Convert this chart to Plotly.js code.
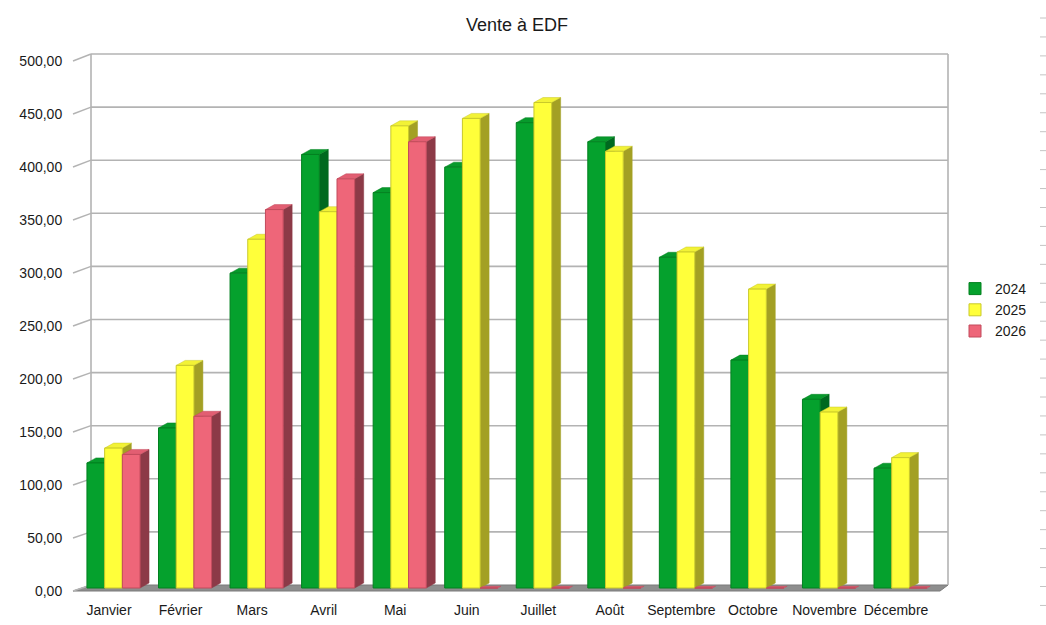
<!DOCTYPE html>
<html>
<head>
<meta charset="utf-8">
<script src="https://cdn.plot.ly/plotly-3.0.1.min.js"></script>
<style>html,body{margin:0;padding:0;background:#fff}#chart{width:1046px;height:625px}</style>
</head>
<body>
<div id="chart"></div>
<script>
// ---- data ----
const months = ["Janvier","Février","Mars","Avril","Mai","Juin","Juillet","Août","Septembre","Octobre","Novembre","Décembre"];
const seriesNames = ["2024","2025","2026"];
const v2024 = [118,151,297,409,373,397,439,421,312,215,178,113];
const v2025 = [132,210,329,355,436,443,458,412,317,282,166,123];
const v2026 = [126,162,357,386,421,0,0,0,0,0,0,0];
const yTicks = [0,50,100,150,200,250,300,350,400,450,500];
const yTickText = yTicks.map(v => v.toFixed(2).replace('.', ','));

// ---- styles / geometry ----
const W = 1046, H = 625;
const fx = x => x / W, fy = y => 1 - y / H;
const FRONT_L = 73, BACK_L = 91, BACK_R = 948, FRONT_R = 940;
const FRONT_FLOOR = 591, BACK_FLOOR = 585, BACK_TOP = 54;
const SCALE = 1.06;             // px per unit (front)
const BACK_SCALE = (BACK_FLOOR - BACK_TOP) / 500;
const CAT = 71.55;              // px per category
const GROUP0 = 113.5;           // px of first group centre
const LABEL0 = 109;             // px of first label centre

const xDomain = [fx(FRONT_L), fx(BACK_R)];
const yDomain = [fy(FRONT_FLOOR), fy(BACK_TOP)];
const xRange = [(FRONT_L - GROUP0) / CAT, (BACK_R - GROUP0) / CAT];
const yLabelRange = [0, (FRONT_FLOOR - BACK_TOP) / SCALE];
const BAR_FLOOR = 588;
const yDataRange = [-(FRONT_FLOOR - BAR_FLOOR) / SCALE, (BAR_FLOOR - BACK_TOP) / SCALE];

const wb = 17.7 / CAT;
const dx = 9 / CAT, dy = 5 / SCALE;
const offsets = [-1.5 * wb, -0.5 * wb, 0.5 * wb];
const fronts = ["#05a12d", "#ffff3a", "#ee6679"];
const edges  = ["#02801f", "#c9c92a", "#c24a5c"];
const sides  = ["#00691f", "#a3a024", "#8c3a47"];
const tops   = ["#079a2c", "#f2f236", "#e25e72"];
const allVals = [v2024, v2025, v2026];
const xIdx = months.map((m, i) => i);

const traces = [];
// base subplot holder (carries the visible axes)
traces.push({type: 'scatter', mode: 'markers', x: [0], y: [0], marker: {opacity: 0},
  xaxis: 'x', yaxis: 'y', showlegend: false, hoverinfo: 'skip'});
// side + top faces (under the front faces)
allVals.forEach((vals, s) => {
  const sx = [], sy = [], tx = [], ty = [];
  vals.forEach((T, i) => {
    const L = i + offsets[s], R = L + wb;
    if (T > 0) {
      sx.push(R, R + dx, R + dx, R, R, null);
      sy.push(0, dy, T + dy, T, 0, null);
    }
    const h = T > 0 ? dy : dy * 0.35;
    const d = T > 0 ? dx : dx * 0.35;
    tx.push(L, R, R + d, L + d, L, null);
    ty.push(T, T, T + h, T + h, T, null);
  });
  traces.push({type: 'scatter', mode: 'lines', x: sx, y: sy, fill: 'toself', fillcolor: sides[s],
    line: {color: sides[s], width: 0.5}, xaxis: 'x', yaxis: 'y2', showlegend: false, hoverinfo: 'skip'});
  traces.push({type: 'scatter', mode: 'lines', x: tx, y: ty, fill: 'toself', fillcolor: tops[s],
    line: {color: edges[s], width: 0.5}, xaxis: 'x', yaxis: 'y2', showlegend: false, hoverinfo: 'skip'});
});
// front faces
allVals.forEach((vals, s) => {
  traces.push({type: 'bar', name: seriesNames[s], x: xIdx, y: vals, width: wb, offset: offsets[s],
    marker: {color: fronts[s], line: {color: edges[s], width: 1}},
    xaxis: 'x2', yaxis: 'y2', hovertemplate: '%{y}<extra>' + seriesNames[s] + '</extra>'});
});

// ---- back wall, left wall, floor ----
const shapes = [];
const gridColor = '#b3b3b3';
const P = (x, y) => fx(x) + ',' + fy(y);
shapes.push({type: 'path', xref: 'paper', yref: 'paper', layer: 'below',
  path: 'M' + P(FRONT_L, FRONT_FLOOR) + 'L' + P(FRONT_R, FRONT_FLOOR) + 'L' + P(BACK_R, BACK_FLOOR) + 'L' + P(BACK_L, BACK_FLOOR) + 'Z',
  fillcolor: '#8e8e8e', line: {color: '#7a7a7a', width: 1}});
yTicks.forEach(v => {
  const yb = BACK_FLOOR - BACK_SCALE * v, yf = FRONT_FLOOR - SCALE * v;
  if (v > 0) shapes.push({type: 'line', xref: 'paper', yref: 'paper', layer: 'below',
    x0: fx(BACK_L), x1: fx(BACK_R), y0: fy(yb), y1: fy(yb), line: {color: gridColor, width: 1.6}});
  shapes.push({type: 'line', xref: 'paper', yref: 'paper', layer: 'below',
    x0: fx(FRONT_L), x1: fx(BACK_L), y0: fy(yf), y1: fy(yb), line: {color: gridColor, width: 1.4}});
});
[BACK_L, BACK_R].forEach(x => shapes.push({type: 'line', xref: 'paper', yref: 'paper', layer: 'below',
  x0: fx(x), x1: fx(x), y0: fy(BACK_TOP), y1: fy(BACK_FLOOR), line: {color: gridColor, width: 1.6}}));
// page edge marks on the right
for (let y = 18; y <= 612; y += 18.95) {
  shapes.push({type: 'line', xref: 'paper', yref: 'paper', x0: fx(1040), x1: fx(1046), y0: fy(y), y1: fy(y),
    line: {color: '#c4c4c4', width: 1}});
}

const font = {family: 'Liberation Sans, Arial, sans-serif', size: 14, color: '#1a1a1a'};
const layout = {
  width: W, height: H, margin: {l: 0, r: 0, t: 0, b: 0},
  paper_bgcolor: '#fff', plot_bgcolor: 'rgba(0,0,0,0)', font: font,
  title: {text: 'Vente à EDF', font: {family: font.family, size: 18, color: '#1a1a1a'},
    x: 517 / W, xanchor: 'center', xref: 'paper', y: fy(25), yanchor: 'middle', yref: 'container'},
  barmode: 'overlay',
  xaxis: {domain: xDomain, range: xRange, anchor: 'y', showgrid: false, zeroline: false,
    showline: false, tickmode: 'array', tickvals: xIdx.map(i => i - (GROUP0 - LABEL0) / CAT), ticktext: months,
    ticks: 'outside', ticklen: 6, tickcolor: 'rgba(0,0,0,0)', tickfont: font, fixedrange: true},
  xaxis2: {domain: xDomain, overlaying: 'x', range: xRange, visible: false, anchor: 'y2', fixedrange: true},
  yaxis: {domain: yDomain, range: yLabelRange, anchor: 'x', showgrid: false, zeroline: false,
    showline: false, tickmode: 'array', tickvals: yTicks, ticktext: yTickText,
    ticks: 'outside', ticklen: 7, tickcolor: 'rgba(0,0,0,0)', tickfont: font, fixedrange: true},
  yaxis2: {domain: yDomain, overlaying: 'y', range: yDataRange, visible: false, anchor: 'x', fixedrange: true},
  legend: {x: fx(955), xanchor: 'left', y: fy(310), yanchor: 'middle', font: font,
    bgcolor: 'rgba(0,0,0,0)', itemclick: false, itemdoubleclick: false},
  shapes: shapes,
  showlegend: true
};
Plotly.newPlot('chart', traces, layout, {displayModeBar: false, staticPlot: true});
</script>
</body>
</html>
